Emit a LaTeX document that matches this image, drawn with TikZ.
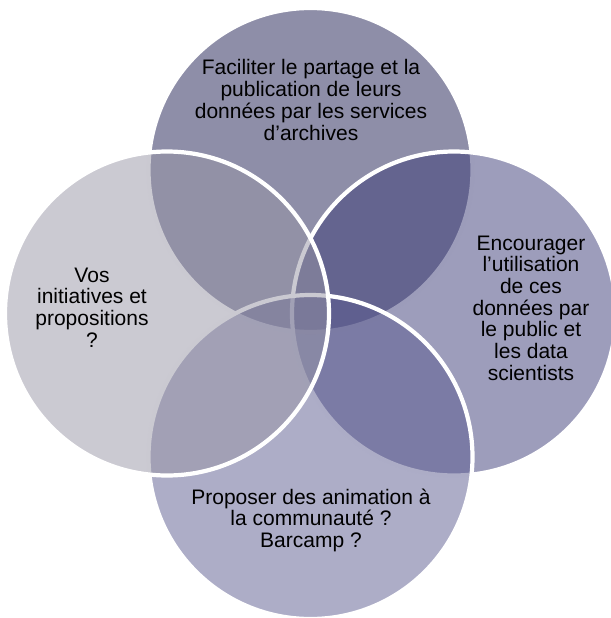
\documentclass[tikz,border=0pt]{standalone}
\usepackage{fontspec}
\setmainfont{Liberation Sans}
\definecolor{ctop}{HTML}{1D1D51}
\definecolor{cright}{HTML}{3B3B77}
\definecolor{cbottom}{HTML}{5B5B8F}
\definecolor{cleft}{HTML}{9795A5}
\begin{document}
\begin{tikzpicture}[x=1pt,y=-1pt,
  venn/.style={fill opacity=0.5, draw=white, line width=4.2pt},
  lbl/.style={anchor=north, align=center, inner sep=0pt, text=black,
    font=\fontsize{21}{21.7}\selectfont}]
\useasboundingbox (0,0) rectangle (610,618);
% circles, drawn in stacking order
\path[venn, fill=ctop]    (310.5,170)   circle[radius=162pt];
\path[venn, fill=cright]  (454,313.5)   circle[radius=162pt];
\path[venn, fill=cbottom] (310.5,457)   circle[radius=162pt];
\path[venn, fill=cleft]   (167,313.5)   circle[radius=162pt];
% labels
\node[lbl] (ttop) at (311,59.5) {Faciliter le partage et la\\publication de leurs\\données par les services\\d’archives};
\node[lbl] (tright) at (531,235.5) {Encourager\\l’utilisation\\de ces\\données par\\le public et\\les data\\scientists};
\node[lbl] (tleft) at (92,267.5) {Vos\\initiatives et\\propositions\\?};
\node[lbl] (tbottom) at (311,488.5) {Proposer des animation à\\la communauté ?\\Barcamp ?};
\end{tikzpicture}
\end{document}
